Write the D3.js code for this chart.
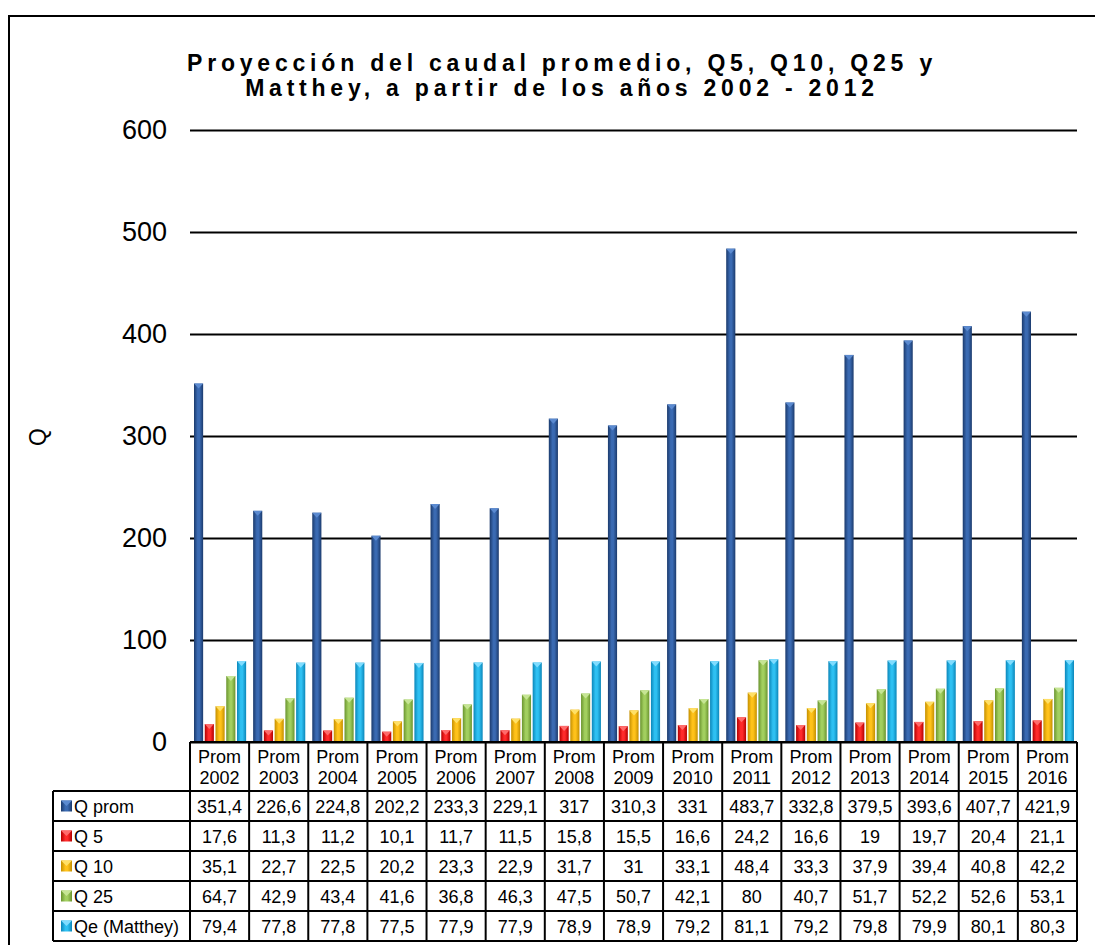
<!DOCTYPE html>
<html>
<head>
<meta charset="utf-8">
<script src="https://cdn.jsdelivr.net/npm/d3@7"></script>
<style>
  html, body { margin: 0; padding: 0; background: #fff; }
  svg { display: block; font-family: Arial, "Liberation Sans", sans-serif; }
</style>
</head>
<body>
<svg id="chart" width="1095" height="945"></svg>
<script>
// Caudal data per year (Prom 2002 … Prom 2016)
const years = ["2002","2003","2004","2005","2006","2007","2008","2009","2010","2011","2012","2013","2014","2015","2016"];
const seriesNames = ["Q prom", "Q 5", "Q 10", "Q 25", "Qe (Matthey)"];
const qProm    = [351.4, 226.6, 224.8, 202.2, 233.3, 229.1, 317, 310.3, 331, 483.7, 332.8, 379.5, 393.6, 407.7, 421.9];
const q5       = [17.6, 11.3, 11.2, 10.1, 11.7, 11.5, 15.8, 15.5, 16.6, 24.2, 16.6, 19, 19.7, 20.4, 21.1];
const q10      = [35.1, 22.7, 22.5, 20.2, 23.3, 22.9, 31.7, 31, 33.1, 48.4, 33.3, 37.9, 39.4, 40.8, 42.2];
const q25      = [64.7, 42.9, 43.4, 41.6, 36.8, 46.3, 47.5, 50.7, 42.1, 80, 40.7, 51.7, 52.2, 52.6, 53.1];
const qMatthey = [79.4, 77.8, 77.8, 77.5, 77.9, 77.9, 78.9, 78.9, 79.2, 81.1, 79.2, 79.8, 79.9, 80.1, 80.3];
const yTicks   = [0, 100, 200, 300, 400, 500, 600];

const seriesValues = [qProm, q5, q10, q25, qMatthey];
// colour stops per series: edge, centre, cap
const palette = [
  { edge: "#1b3a6c", mid: "#3a6ab2", cap: "#5b8ad0" },
  { edge: "#b30000", mid: "#ff2a2a", cap: "#ff6b6b" },
  { edge: "#c48f00", mid: "#ffc21a", cap: "#ffe066" },
  { edge: "#6a942f", mid: "#a2cf5f", cap: "#c6e594" },
  { edge: "#0b86b9", mid: "#2ec0f2", cap: "#7fdcff" }
];

const svg = d3.select("#chart");
const plot = { left: 190, right: 1077, top: 130, bottom: 742 };

const x0 = d3.scaleBand().domain(years).range([plot.left, plot.right]).paddingInner(0).paddingOuter(0);
const x1 = d3.scaleBand().domain(d3.range(seriesNames.length)).range([4, x0.bandwidth() - 3]).paddingInner(0.15);
const y  = d3.scaleLinear().domain([0, 600]).range([plot.bottom, plot.top]);

// gradients for the cylinder shading
const defs = svg.append("defs");
palette.forEach((p, i) => {
  const g = defs.append("linearGradient").attr("id", "grad" + i)
    .attr("x1", "0%").attr("x2", "100%").attr("y1", "0%").attr("y2", "0%");
  g.append("stop").attr("offset", "0%").attr("stop-color", p.edge);
  g.append("stop").attr("offset", "40%").attr("stop-color", p.mid);
  g.append("stop").attr("offset", "60%").attr("stop-color", p.mid);
  g.append("stop").attr("offset", "100%").attr("stop-color", p.edge);
});

// outer chart frame
svg.append("rect").attr("x", 9).attr("y", 16).attr("width", 1200).attr("height", 1000)
  .attr("fill", "none").attr("stroke", "#000").attr("stroke-width", 2);

// title
const title = svg.append("g").attr("font-weight", "bold").attr("font-size", 23).attr("fill", "#000");
const titleLines = ["Proyección del caudal promedio, Q5, Q10, Q25 y", "Matthey, a partir de los años 2002 - 2012"];
const titleWidths = [745, 629];
titleLines.forEach((t, i) => {
  const txt = title.append("text").attr("x", 562).attr("y", 71 + i * 25).attr("text-anchor", "middle").text(t);
  const w = txt.node().getComputedTextLength();
  const spacing = (titleWidths[i] - w) / (t.length - 1);
  txt.attr("letter-spacing", spacing.toFixed(2));
});

// gridlines and y axis labels
const yAxis = d3.axisLeft(y).tickValues(yTicks).tickSize(-(plot.right - plot.left)).tickPadding(23).tickFormat(d3.format("d"));
const ga = svg.append("g").attr("transform", `translate(${plot.left},0)`).call(yAxis);
ga.select(".domain").remove();
ga.selectAll(".tick line").attr("stroke", "#000").attr("stroke-width", 2);
ga.selectAll(".tick text").attr("font-size", 27).attr("fill", "#000").attr("font-family", "Arial, 'Liberation Sans', sans-serif");

// y axis title
svg.append("text").attr("transform", "translate(46,437) rotate(-90)")
  .attr("text-anchor", "middle").attr("font-size", 23).text("Q");

// bars
const groups = svg.append("g").selectAll("g").data(years).join("g")
  .attr("transform", d => `translate(${x0(d)},0)`);

groups.each(function(yr, yi) {
  const g = d3.select(this);
  seriesValues.forEach((vals, si) => {
    const v = vals[yi];
    const bx = x1(si), bw = x1.bandwidth();
    const top = y(v);
    g.append("rect").attr("x", bx).attr("y", top).attr("width", bw).attr("height", plot.bottom - top)
      .attr("fill", `url(#grad${si})`);
    const capH = Math.min(5, plot.bottom - top);
    g.append("path")
      .attr("d", `M${bx},${top} L${bx + bw},${top} L${bx + bw / 2},${top + capH} Z`)
      .attr("fill", palette[si].cap);
  });
});

// data table
const table = svg.append("g");
const rowH = 30, headTop = plot.bottom, headBottom = 791;
const legendLeft = 53;
const tableBottom = headBottom + rowH * seriesNames.length;
const lineStyle = sel => sel.attr("stroke", "#000").attr("stroke-width", 2);

// header cells
years.forEach(yr => {
  const cx = x0(yr) + x0.bandwidth() / 2;
  table.append("text").attr("x", cx).attr("y", 763).attr("text-anchor", "middle").attr("font-size", 18).text("Prom");
  table.append("text").attr("x", cx).attr("y", 784).attr("text-anchor", "middle").attr("font-size", 18).text(yr);
});

// horizontal lines
table.append("line").attr("x1", plot.left).attr("x2", plot.right).attr("y1", headTop).attr("y2", headTop).call(lineStyle);
d3.range(seriesNames.length + 1).forEach(i => {
  const yy = headBottom + i * rowH;
  table.append("line").attr("x1", legendLeft).attr("x2", plot.right).attr("y1", yy).attr("y2", yy).call(lineStyle);
});
// vertical lines
years.concat(["end"]).forEach((yr, i) => {
  const xx = i < years.length ? x0(yr) : plot.right;
  table.append("line").attr("x1", xx).attr("x2", xx).attr("y1", headTop).attr("y2", tableBottom).call(lineStyle);
});
table.append("line").attr("x1", legendLeft).attr("x2", legendLeft).attr("y1", headBottom).attr("y2", tableBottom).call(lineStyle);

// rows: legend key + values
const fmt = v => String(v).replace(".", ",");
seriesNames.forEach((name, si) => {
  const cy = headBottom + si * rowH + rowH / 2;
  table.append("rect").attr("x", 61).attr("y", cy - 5.5).attr("width", 11).attr("height", 11)
    .attr("fill", `url(#grad${si})`);
  table.append("path").attr("d", `M61,${cy - 5.5} L72,${cy - 5.5} L66.5,${cy} Z`).attr("fill", palette[si].cap);
  table.append("text").attr("x", 74).attr("y", cy + 6.5).attr("font-size", 18).text(name);
  years.forEach((yr, yi) => {
    table.append("text").attr("x", x0(yr) + x0.bandwidth() / 2).attr("y", cy + 6.5)
      .attr("text-anchor", "middle").attr("font-size", 18).text(fmt(seriesValues[si][yi]));
  });
});
</script>
</body>
</html>
